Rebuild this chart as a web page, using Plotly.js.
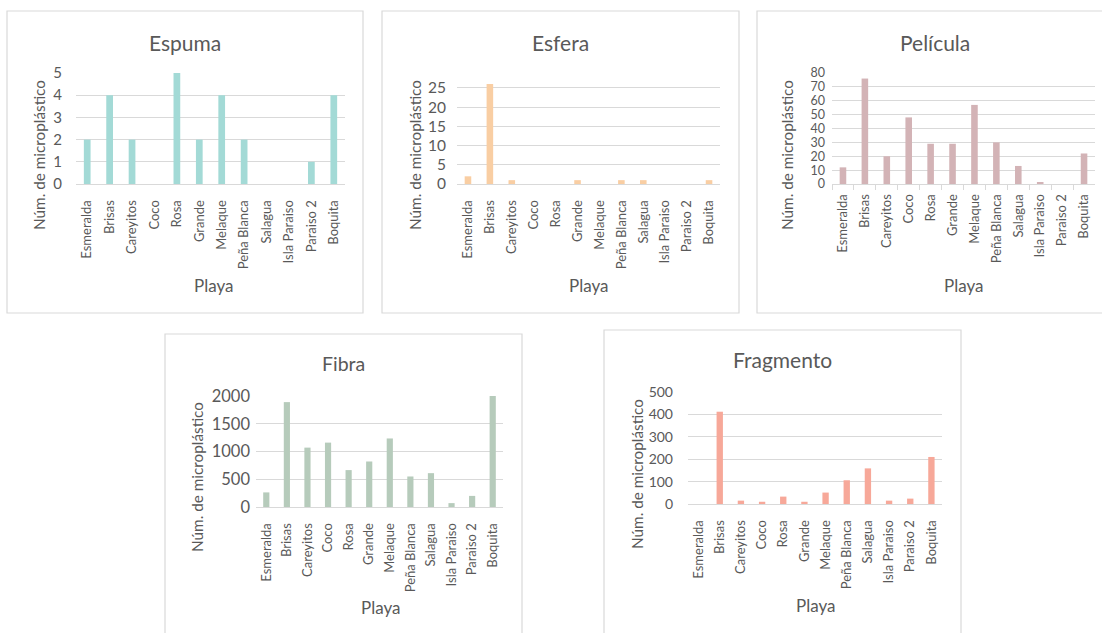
<!DOCTYPE html>
<html>
<head>
<meta charset="utf-8">
<script src="https://cdn.plot.ly/plotly-3.0.1.min.js"></script>
<style>html,body{margin:0;padding:0;background:#fff;}#chart{width:1102px;height:633px;}</style>
</head>
<body>
<div id="chart"></div>
<script>
const playas = ["Esmeralda","Brisas","Careyitos","Coco","Rosa","Grande","Melaque","Peña Blanca","Salagua","Isla Paraiso","Paraiso 2","Boquita"];
const espuma    = [2, 4, 2, 0, 5, 2, 4, 2, 0, 0, 1, 4];
const esfera    = [2, 26, 1, 0, 0, 1, 0, 1, 1, 0, 0, 1];
const pelicula  = [12, 76, 20, 48, 29, 29, 57, 30, 13, 1, 0, 22];
const fibra     = [263, 1890, 1070, 1160, 665, 820, 1235, 550, 610, 70, 200, 2005];
const fragmento = [0, 412, 15, 10, 33, 10, 51, 106, 159, 15, 24, 210];
const panelTitles = ["Espuma","Esfera","Película","Fibra","Fragmento"];
const yTickVals = [[0,1,2,3,4,5],[0,5,10,15,20,25],[0,10,20,30,40,50,60,70,80],[0,500,1000,1500,2000],[0,100,200,300,400,500]];
const yRanges = [[0,5],[0,26],[0,80],[0,2000],[0,500]];
const seriesList = [espuma, esfera, pelicula, fibra, fragmento];
const colors = ["#a3dad6","#f9cea3","#d3b3b6","#b6cbbb","#f7a899"];

const W = 1102, H = 633;
// panel geometry in pixels
const panels = [
  {plot:[76,345,73,184],  border:[7,11,363,313],   title:[185,42],  ytitle:[39,155],  xtitle:[213,285], tsize:21,   ysize:15,   ystand:13},
  {plot:[457,720,84,184], border:[382,11,739,313], title:[560,42],  ytitle:[415,155], xtitle:[588,285], tsize:21,   ysize:15.5, ystand:10},
  {plot:[832,1095,73,184],border:[757,11,1115,313],title:[935,42],  ytitle:[787,155], xtitle:[963,285], tsize:21,   ysize:12.5, ystand:6},
  {plot:[256,503,396,507],border:[165,334,522,650],title:[343,363], ytitle:[197,477], xtitle:[380,607], tsize:19.5, ysize:16.5, ystand:5},
  {plot:[688,942,392,504],border:[604,330,961,650],title:[782,359], ytitle:[637,474], xtitle:[815,605], tsize:21,   ysize:14,   ystand:14}
];
const px = x => x / W;
const py = y => 1 - y / H;
const FONT = "Lato, 'Noto Sans', sans-serif";
const TXT = "#595959";
const GRID = "#d9d9d9";

const data = [];
const layout = {
  width: W, height: H,
  margin: {l:0, r:0, t:0, b:0},
  paper_bgcolor: "#fff", plot_bgcolor: "#fff",
  showlegend: false,
  font: {family: FONT, color: TXT},
  shapes: [], annotations: []
};

panels.forEach((p, i) => {
  const n = i + 1;
  const xa = n === 1 ? "x" : "x" + n;
  const ya = n === 1 ? "y" : "y" + n;
  data.push({
    type: "bar", x: playas, y: seriesList[i],
    xaxis: xa, yaxis: ya,
    marker: {color: colors[i]}, width: 0.3,
    hoverinfo: "x+y"
  });
  const xKey = n === 1 ? "xaxis" : "xaxis" + n;
  const yKey = n === 1 ? "yaxis" : "yaxis" + n;
  layout[xKey] = {
    domain: [px(p.plot[0]), px(p.plot[1])],
    anchor: ya,
    type: "category",
    tickangle: -90,
    tickfont: {size: 13, color: TXT, family: FONT},
    showline: true, linecolor: GRID, linewidth: 1,
    showgrid: false,
    ticks: i === 2 ? "outside" : "",
    tickson: "boundaries",
    ticklen: 5, tickcolor: GRID,
    ticklabelstandoff: i === 2 ? 4 : 10,
    fixedrange: true
  };
  layout[yKey] = {
    domain: [py(p.plot[3]), py(p.plot[2])],
    anchor: xa,
    range: yRanges[i],
    tickvals: yTickVals[i],
    tickformat: "d",
    tickfont: {size: p.ysize, color: TXT, family: FONT},
    showgrid: true, gridcolor: GRID, gridwidth: 1,
    zeroline: false, showline: false,
    ticks: "",
    ticklabelstandoff: p.ystand,
    fixedrange: true
  };
  const b = p.border;
  layout.shapes.push({type:"rect", xref:"paper", yref:"paper",
    x0: px(b[0]), x1: px(b[2]), y0: py(b[3]), y1: py(b[1]),
    line:{color:GRID, width:1.2}, fillcolor:"rgba(0,0,0,0)", layer:"below"});
  layout.annotations.push({text: panelTitles[i], xref:"paper", yref:"paper",
    x: px(p.title[0]), y: py(p.title[1]), xanchor:"center", yanchor:"middle",
    showarrow:false, font:{size:p.tsize, color:TXT, family:FONT}});
  layout.annotations.push({text: "Núm. de microplástico", xref:"paper", yref:"paper",
    x: px(p.ytitle[0]), y: py(p.ytitle[1]), xanchor:"center", yanchor:"middle", textangle:-90,
    showarrow:false, font:{size:15.3, color:TXT, family:FONT}});
  layout.annotations.push({text: "Playa", xref:"paper", yref:"paper",
    x: px(p.xtitle[0]), y: py(p.xtitle[1]), xanchor:"center", yanchor:"middle",
    showarrow:false, font:{size:17, color:TXT, family:FONT}});
});

Plotly.newPlot("chart", data, layout, {displayModeBar:false, staticPlot:false});
</script>
</body>
</html>
